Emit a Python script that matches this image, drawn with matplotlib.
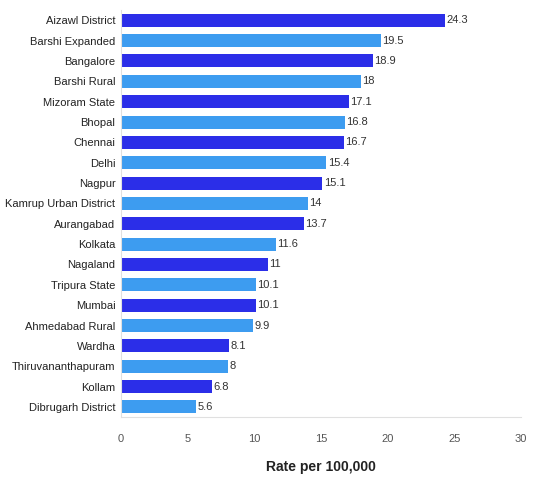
import matplotlib
matplotlib.use("Agg")
import matplotlib.pyplot as plt

plt.rcParams['font.family'] = ['Liberation Sans Narrow', 'Liberation Sans', 'DejaVu Sans']

categories = ["Aizawl District", "Barshi Expanded", "Bangalore", "Barshi Rural",
              "Mizoram State", "Bhopal", "Chennai", "Delhi", "Nagpur",
              "Kamrup Urban District", "Aurangabad", "Kolkata", "Nagaland",
              "Tripura State", "Mumbai", "Ahmedabad Rural", "Wardha",
              "Thiruvananthapuram", "Kollam", "Dibrugarh District"]
values = [24.3, 19.5, 18.9, 18, 17.1, 16.8, 16.7, 15.4, 15.1, 14, 13.7, 11.6,
          11, 10.1, 10.1, 9.9, 8.1, 8, 6.8, 5.6]
value_labels = ["24.3", "19.5", "18.9", "18", "17.1", "16.8", "16.7", "15.4", "15.1",
                "14", "13.7", "11.6", "11", "10.1", "10.1", "9.9", "8.1", "8", "6.8", "5.6"]
xticks = [0, 5, 10, 15, 20, 25, 30]

dark = "#2b2ee8"
light = "#3d9cf0"

fig = plt.figure(figsize=(5.36, 4.8), dpi=100)
ax = fig.add_axes([0.2257, 0.131, 0.7463, 0.848])

ypos = list(range(len(categories)))
colors = [dark if i % 2 == 0 else light for i in ypos]
ax.barh(ypos, values, height=0.64, color=colors)
for y, v, t in zip(ypos, values, value_labels):
    ax.text(v + 0.12, y, t, va='center', ha='left', fontsize=8, color='#333333')

ax.set_ylim(len(categories) - 0.5, -0.5)
ax.set_xlim(0, 30)
ax.set_yticks(ypos)
ax.set_yticklabels(categories, fontsize=8, color='#222222')
ax.set_xticks(xticks)
ax.set_xticklabels([str(x) for x in xticks], fontsize=8, color='#555555')
ax.tick_params(axis='y', length=0, pad=4)
ax.tick_params(axis='x', length=0, pad=12)
for s in ['top', 'right']:
    ax.spines[s].set_visible(False)
ax.spines['left'].set_color('#e0e0e0')
ax.spines['bottom'].set_color('#e0e0e0')
ax.set_xlabel("Rate per 100,000", fontsize=10, fontweight='bold', color='#222222', labelpad=12)

fig.savefig("out.png", dpi=100)
